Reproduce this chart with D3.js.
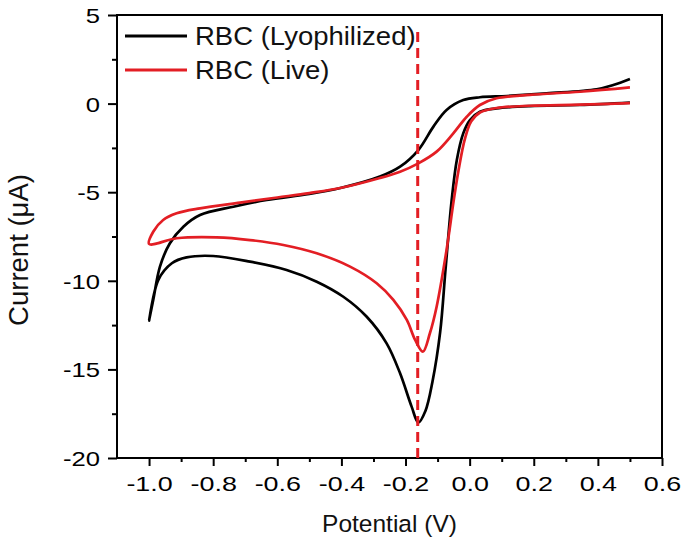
<!DOCTYPE html>
<html>
<head>
<meta charset="utf-8">
<script src="https://cdn.jsdelivr.net/npm/d3@7"></script>
<style>
  html, body { margin: 0; padding: 0; background: #fff; }
  svg { display: block; font-family: "Liberation Sans", Arial, sans-serif; }
</style>
</head>
<body>
<svg id="chart" width="685" height="548"></svg>
<script>
// ---- data ----
const seriesNames = ["RBC (Lyophilized)", "RBC (Live)"];
const seriesColors = ["#000000", "#e31e24"];

// RBC (Lyophilized): potential (V) and current (µA), along the scan
const lyoV = [0.50, 0.344, 0.188, 0.084, 0.032, 0.001, -0.020, -0.040, -0.056, -0.075, -0.092, -0.116, -0.138, -0.160, -0.181, -0.217, -0.259, -0.321, -0.394, -0.477, -0.571, -0.685, -0.800, -0.883, -0.929, -0.971, -1.000,
              -0.987, -0.966, -0.935, -0.893, -0.841, -0.737, -0.633, -0.500, -0.400, -0.280, -0.217, -0.160, -0.113, -0.072, -0.020, 0.032, 0.116, 0.240, 0.396, 0.448, 0.500];
const lyoI = [0.05, -0.08, -0.14, -0.27, -0.46, -0.93, -1.68, -3.18, -5.44, -9.30, -12.90, -15.70, -17.35, -18.00, -17.10, -15.22, -13.53, -12.03, -10.90, -10.05, -9.39, -8.92, -8.60, -8.68, -9.01, -9.95, -12.25,
              -11.08, -9.20, -7.88, -6.95, -6.29, -5.82, -5.44, -5.10, -4.75, -4.12, -3.56, -2.62, -1.30, -0.36, 0.20, 0.36, 0.43, 0.58, 0.81, 1.05, 1.39];

// RBC (Live)
const liveV = [0.50, 0.344, 0.188, 0.084, 0.032, 0.005, -0.015, -0.035, -0.050, -0.072, -0.103, -0.124, -0.146, -0.170, -0.196, -0.238, -0.290, -0.373, -0.477, -0.581, -0.685, -0.789, -0.914, -1.000,
               -0.987, -0.956, -0.914, -0.841, -0.716, -0.600, -0.500, -0.400, -0.280, -0.217, -0.160, -0.103, -0.051, -0.009, 0.032, 0.084, 0.188, 0.344, 0.500];
const liveI = [0.03, -0.06, -0.12, -0.25, -0.50, -1.00, -2.00, -3.80, -5.50, -8.26, -11.46, -12.96, -14.00, -13.34, -12.21, -11.08, -10.14, -9.20, -8.45, -7.98, -7.70, -7.55, -7.60, -7.92,
               -7.23, -6.57, -6.19, -5.91, -5.59, -5.30, -5.05, -4.75, -4.20, -3.84, -3.37, -2.71, -1.68, -0.74, -0.08, 0.30, 0.49, 0.67, 0.92];

// dashed marker line (peak potential)
const markerV = -0.162;
const markerI = [-20, 4.3];

// axes
const xDomain = [-1.1, 0.6];
const yDomain = [-20, 5];
const xTickValues = [-1.0, -0.8, -0.6, -0.4, -0.2, 0.0, 0.2, 0.4, 0.6];
const xTickLabels = ["-1.0", "-0.8", "-0.6", "-0.4", "-0.2", "0.0", "0.2", "0.4", "0.6"];
const xMinorValues = [-0.9, -0.7, -0.5, -0.3, -0.1, 0.1, 0.3, 0.5];
const yTickValues = [5, 0, -5, -10, -15, -20];
const yTickLabels = ["5", "0", "-5", "-10", "-15", "-20"];
const yMinorValues = [2.5, -2.5, -7.5, -12.5, -17.5];
const xTitle = "Potential (V)";
const yTitle = "Current (\u03bcA)";

// ---- layout ----
const L = 117, R = 662, T = 15, B = 458;
const svg = d3.select("#chart");
const x = d3.scaleLinear().domain(xDomain).range([L, R]);
const y = d3.scaleLinear().domain(yDomain).range([B, T]);

function stretch(sel, k) {
  sel.each(function () {
    const len = this.getComputedTextLength();
    this.setAttribute("textLength", (len * k).toFixed(2));
    this.setAttribute("lengthAdjust", "spacingAndGlyphs");
  });
}

// axes
const gx = svg.append("g").attr("transform", `translate(0,${B})`)
  .call(d3.axisBottom(x).tickValues(xTickValues).tickFormat((d, i) => xTickLabels[i]).tickSize(8));
const gxm = svg.append("g").attr("transform", `translate(0,${B})`)
  .call(d3.axisBottom(x).tickValues(xMinorValues).tickFormat("").tickSize(4));
const gy = svg.append("g").attr("transform", `translate(${L},0)`)
  .call(d3.axisLeft(y).tickValues(yTickValues).tickFormat((d, i) => yTickLabels[i]).tickSize(9));
const gym = svg.append("g").attr("transform", `translate(${L},0)`)
  .call(d3.axisLeft(y).tickValues(yMinorValues).tickFormat("").tickSize(5));

[gx, gxm, gy, gym].forEach(g => {
  g.select(".domain").remove();
  g.selectAll("line").attr("stroke", "#000").attr("stroke-width", 2);
});
gx.selectAll("text").attr("y", 33).attr("dy", 0)
  .attr("font-size", 21).attr("font-family", "Liberation Sans, Arial, sans-serif").attr("fill", "#000");
gy.selectAll("text").attr("x", -17).attr("dy", "0.36em")
  .attr("font-size", 21).attr("font-family", "Liberation Sans, Arial, sans-serif").attr("fill", "#000");
stretch(gx.selectAll("text"), 1.28);
stretch(gy.selectAll("text"), 1.22);

// frame
svg.append("rect").attr("x", L).attr("y", T).attr("width", R - L).attr("height", B - T)
  .attr("fill", "none").attr("stroke", "#000").attr("stroke-width", 2);

// curves
const line = d3.line().x(d => x(d[0])).y(d => y(d[1])).curve(d3.curveCatmullRom.alpha(0.5));
const lyo = lyoV.map((v, i) => [v, lyoI[i]]);
const live = liveV.map((v, i) => [v, liveI[i]]);
svg.append("path").datum(lyo).attr("d", line).attr("fill", "none")
  .attr("stroke", seriesColors[0]).attr("stroke-width", 2.7).attr("stroke-linejoin", "round");
svg.append("path").datum(live).attr("d", line).attr("fill", "none")
  .attr("stroke", seriesColors[1]).attr("stroke-width", 2.7).attr("stroke-linejoin", "round");

// dashed marker
svg.append("line")
  .attr("x1", x(markerV)).attr("x2", x(markerV))
  .attr("y1", y(markerI[0])).attr("y2", y(markerI[1]))
  .attr("stroke", seriesColors[1]).attr("stroke-width", 3).attr("stroke-dasharray", "10,6");

// legend
const legRows = [36, 70];
seriesNames.forEach((name, i) => {
  svg.append("line").attr("x1", 125).attr("x2", 187).attr("y1", legRows[i]).attr("y2", legRows[i])
    .attr("stroke", seriesColors[i]).attr("stroke-width", 3);
  const t = svg.append("text").attr("x", 195).attr("y", legRows[i] + 9)
    .attr("font-size", 25).attr("fill", "#111").text(name);
  stretch(t, 1.1);
});

// axis titles
svg.append("text").attr("x", (L + R) / 2).attr("y", 532).attr("text-anchor", "middle")
  .attr("font-size", 24.5).attr("fill", "#111").text(xTitle);
svg.append("text").attr("transform", "translate(28,250) rotate(-90)")
  .attr("text-anchor", "middle").attr("font-size", 27.5).attr("fill", "#111").text(yTitle);
</script>
</body>
</html>
